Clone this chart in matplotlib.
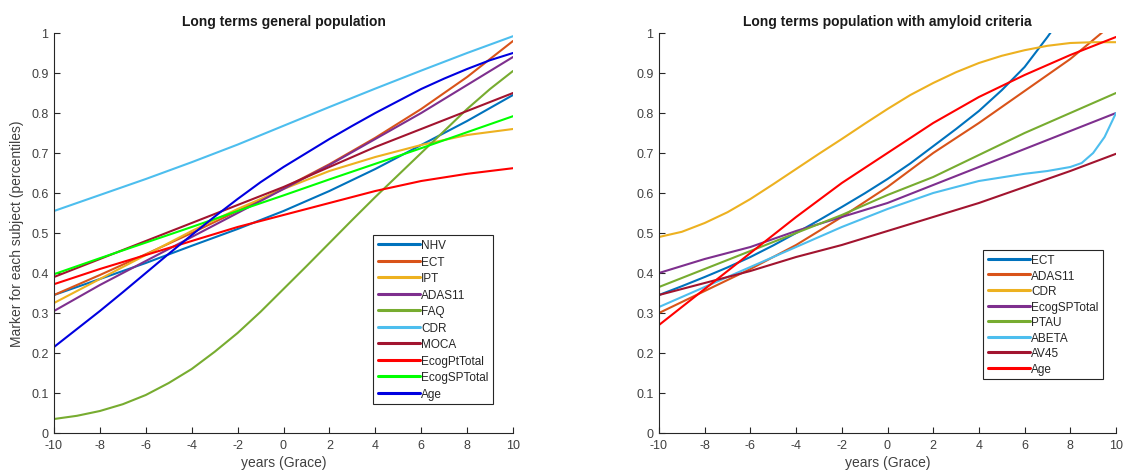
import matplotlib
matplotlib.use("Agg")
import matplotlib.pyplot as plt
import numpy as np

plt.rcParams['font.family'] = ['Liberation Sans', 'DejaVu Sans']
plt.rcParams['axes.unicode_minus'] = False

# ---- data: general population (values at years -10, -8, ..., 10) ----
years = [-10, -8, -6, -4, -2, 0, 2, 4, 6, 8, 10]
# yearly grid for the more strongly curved series
years_fine = list(range(-10, 11))

gen_labels = ["NHV", "ECT", "IPT", "ADAS11", "FAQ", "CDR", "MOCA",
              "EcogPtTotal", "EcogSPTotal", "Age"]
gen_nhv = [0.345, 0.385, 0.425, 0.468, 0.510, 0.555, 0.605, 0.660, 0.720, 0.780, 0.845]
gen_ect = [0.345, 0.395, 0.447, 0.500, 0.555, 0.612, 0.672, 0.738, 0.810, 0.890, 0.980]
gen_ipt = [0.325, 0.385, 0.445, 0.505, 0.560, 0.610, 0.655, 0.690, 0.720, 0.745, 0.760]
gen_adas11 = [0.305, 0.370, 0.430, 0.490, 0.550, 0.610, 0.670, 0.735, 0.800, 0.870, 0.940]
gen_faq = [0.035, 0.043, 0.055, 0.072, 0.095, 0.125, 0.160, 0.203, 0.250, 0.303, 0.360,
           0.417, 0.475, 0.533, 0.590, 0.645, 0.700, 0.755, 0.810, 0.860, 0.905]
gen_cdr = [0.555, 0.595, 0.635, 0.677, 0.721, 0.768, 0.815, 0.861, 0.906, 0.950, 0.992]
gen_moca = [0.390, 0.435, 0.480, 0.525, 0.570, 0.615, 0.665, 0.715, 0.760, 0.805, 0.850]
gen_ecogpt = [0.372, 0.410, 0.445, 0.480, 0.515, 0.545, 0.575, 0.605, 0.630, 0.648, 0.662]
gen_ecogsp = [0.397, 0.437, 0.476, 0.515, 0.555, 0.594, 0.634, 0.673, 0.712, 0.752, 0.792]
gen_age = [0.215, 0.260, 0.305, 0.352, 0.400, 0.448, 0.495, 0.541, 0.585, 0.627, 0.665,
           0.700, 0.735, 0.768, 0.800, 0.830, 0.860, 0.886, 0.910, 0.932, 0.950]

gen_colors = ["#0072BD", "#D95319", "#EDB120", "#7E2F8E", "#77AC30",
              "#4DBEEE", "#A2142F", "#FF0000", "#00FF00", "#0000E0"]

# ---- data: population with amyloid criteria ----
amy_labels = ["ECT", "ADAS11", "CDR", "EcogSPTotal", "PTAU", "ABETA", "AV45", "Age"]
amy_ect = [0.345, 0.367, 0.390, 0.414, 0.440, 0.469, 0.500, 0.532, 0.565, 0.599, 0.635,
           0.674, 0.717, 0.760, 0.805, 0.857, 0.915, 0.990, 1.070, 1.150, 1.230]
amy_adas11 = [0.300, 0.355, 0.410, 0.470, 0.540, 0.615, 0.700, 0.775, 0.855, 0.935, 1.030]
amy_cdr = [0.490, 0.503, 0.525, 0.552, 0.585, 0.622, 0.660, 0.698, 0.735, 0.773, 0.810,
           0.845, 0.875, 0.902, 0.925, 0.943, 0.957, 0.968, 0.975, 0.977, 0.977]
amy_ecogsp = [0.400, 0.435, 0.465, 0.505, 0.540, 0.575, 0.620, 0.665, 0.710, 0.755, 0.800]
amy_ptau = [0.365, 0.410, 0.455, 0.500, 0.545, 0.595, 0.640, 0.695, 0.750, 0.800, 0.850]
abeta_years = [-10, -8, -6, -4, -2, 0, 2, 4, 6, 7, 8, 8.5, 9, 9.5, 10]
amy_abeta = [0.315, 0.365, 0.415, 0.465, 0.515, 0.560, 0.600, 0.630, 0.648, 0.655,
             0.665, 0.675, 0.700, 0.740, 0.800]
amy_av45 = [0.345, 0.375, 0.405, 0.440, 0.470, 0.505, 0.540, 0.575, 0.615, 0.655, 0.698]
amy_age = [0.270, 0.360, 0.450, 0.540, 0.625, 0.700, 0.775, 0.840, 0.895, 0.945, 0.990]

amy_colors = ["#0072BD", "#D95319", "#EDB120", "#7E2F8E", "#77AC30",
              "#4DBEEE", "#A2142F", "#FF0000"]

gen_series = [(years, gen_nhv), (years, gen_ect), (years, gen_ipt), (years, gen_adas11),
              (years_fine, gen_faq), (years, gen_cdr), (years, gen_moca),
              (years, gen_ecogpt), (years, gen_ecogsp), (years_fine, gen_age)]
amy_series = [(years_fine, amy_ect), (years, amy_adas11), (years_fine, amy_cdr),
              (years, amy_ecogsp), (years, amy_ptau), (abeta_years, amy_abeta),
              (years, amy_av45), (years, amy_age)]

xticks = list(range(-10, 11, 2))
yticks = [0, 0.1, 0.2, 0.3, 0.4, 0.5, 0.6, 0.7, 0.8, 0.9, 1]
ytick_labels = ["0", "0.1", "0.2", "0.3", "0.4", "0.5", "0.6", "0.7", "0.8", "0.9", "1"]

W, H = 1126, 477
fig = plt.figure(figsize=(W / 100, H / 100), dpi=100)
ax1 = fig.add_axes([54 / W, 43 / H, 459 / W, 400 / H])
ax2 = fig.add_axes([659 / W, 43 / H, 457 / W, 400 / H])

axis_col = "#262626"
tick_col = "#404040"


def style(ax, title):
    ax.set_xlim(-10, 10)
    ax.set_ylim(0, 1)
    ax.set_xticks(xticks)
    ax.set_yticks(yticks)
    ax.set_yticklabels(ytick_labels)
    for s in ("top", "right"):
        ax.spines[s].set_visible(False)
    for s in ("left", "bottom"):
        ax.spines[s].set_color(axis_col)
        ax.spines[s].set_linewidth(0.8)
    ax.tick_params(direction="in", length=4, width=0.8, colors=axis_col,
                   labelsize=9, labelcolor=tick_col, pad=4)
    ax.set_title(title, fontsize=10, fontweight="bold", color="#1a1a1a", pad=6)
    ax.set_xlabel("years (Grace)", fontsize=10, color=tick_col, labelpad=3)


def style_legend(leg):
    leg.get_frame().set_edgecolor(axis_col)
    leg.get_frame().set_linewidth(0.8)
    for line in leg.get_lines():
        line.set_linewidth(2.2)
    for t in leg.get_texts():
        t.set_color("#262626")


for (xs, vals), c, lab in zip(gen_series, gen_colors, gen_labels):
    ax1.plot(xs, vals, color=c, lw=1.5, label=lab, solid_capstyle="round")
style(ax1, "Long terms general population")
ax1.set_ylabel("Marker for each subject (percentiles)", fontsize=10,
               color=tick_col, labelpad=5)
leg1 = ax1.legend(loc="lower right", bbox_to_anchor=(0.956, 0.0725),
                  fontsize=8.5, handlelength=3.6, handletextpad=0.1,
                  labelspacing=0.38, borderaxespad=0, borderpad=0.35,
                  fancybox=False, framealpha=1)
style_legend(leg1)

for (xs, vals), c, lab in zip(amy_series, amy_colors, amy_labels):
    ax2.plot(xs, vals, color=c, lw=1.5, label=lab, solid_capstyle="round")
style(ax2, "Long terms population with amyloid criteria")
leg2 = ax2.legend(loc="lower right", bbox_to_anchor=(0.971, 0.135),
                  fontsize=8.5, handlelength=3.6, handletextpad=0.1,
                  labelspacing=0.3, borderaxespad=0, borderpad=0.35,
                  fancybox=False, framealpha=1)
style_legend(leg2)

fig.savefig("out.png", dpi=100)
